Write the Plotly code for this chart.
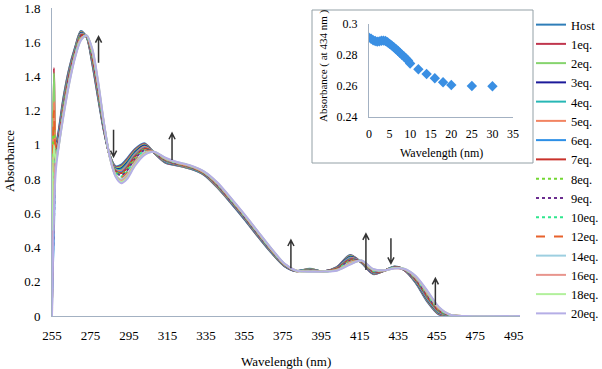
import plotly.graph_objects as go

# ---------------- data ----------------
wavelength = [255, 256, 257, 258, 261, 264, 267, 270, 273, 276, 279, 282, 285, 288, 291, 294,
              298, 303, 308, 314, 320, 327, 334, 341, 348, 355, 362, 369, 376,
              382, 389, 396, 403, 410, 416, 422, 428, 433, 438, 444, 450, 456, 462, 470, 500]

host = [0.05, 0.6, 1.0, 1.05, 1.28, 1.45, 1.57, 1.665, 1.63, 1.47, 1.27, 1.08, 0.94, 0.875, 0.885, 0.92,
        0.975, 1.01, 0.955, 0.895, 0.88, 0.86, 0.825, 0.75, 0.66, 0.565, 0.465, 0.37, 0.29,
        0.262, 0.276, 0.26, 0.285, 0.357, 0.31, 0.245, 0.265, 0.289, 0.27, 0.195, 0.085, 0.01, 0.0, 0.0, 0.0]
eq1 = [0.2, 1.45, 1.0, 1.043, 1.272, 1.444, 1.566, 1.661, 1.631, 1.476, 1.277, 1.084, 0.939, 0.871, 0.877, 0.912,
       0.968, 1.005, 0.955, 0.897, 0.881, 0.861, 0.826, 0.752, 0.662, 0.567, 0.467, 0.372, 0.291,
       0.262, 0.275, 0.26, 0.284, 0.353, 0.311, 0.247, 0.265, 0.288, 0.27, 0.198, 0.09, 0.013, 0.001, 0, 0]
eq2 = [0.7, 1.42, 1.02, 1.037, 1.266, 1.438, 1.562, 1.658, 1.631, 1.482, 1.283, 1.087, 0.939, 0.867, 0.871, 0.904,
       0.962, 1.001, 0.956, 0.899, 0.883, 0.863, 0.828, 0.754, 0.664, 0.569, 0.469, 0.373, 0.292,
       0.262, 0.274, 0.26, 0.282, 0.35, 0.312, 0.249, 0.265, 0.288, 0.271, 0.2, 0.094, 0.016, 0.001, 0, 0]
eq3 = [0.15, 0.9, 1.0, 1.03, 1.258, 1.432, 1.558, 1.654, 1.632, 1.488, 1.29, 1.09, 0.938, 0.863, 0.863, 0.896,
       0.955, 0.996, 0.956, 0.901, 0.884, 0.864, 0.829, 0.756, 0.666, 0.571, 0.471, 0.375, 0.293,
       0.263, 0.272, 0.26, 0.281, 0.346, 0.313, 0.251, 0.266, 0.287, 0.271, 0.203, 0.098, 0.019, 0.002, 0, 0]
eq4 = [0.3, 0.7, 0.98, 1.023, 1.25, 1.426, 1.554, 1.65, 1.633, 1.494, 1.297, 1.094, 0.937, 0.859, 0.856, 0.888,
       0.948, 0.991, 0.956, 0.903, 0.885, 0.865, 0.83, 0.758, 0.668, 0.573, 0.473, 0.377, 0.294,
       0.263, 0.271, 0.26, 0.28, 0.342, 0.314, 0.253, 0.266, 0.286, 0.272, 0.206, 0.103, 0.022, 0.002, 0, 0]
eq5 = [0.0, 1.25, 1.0, 1.017, 1.244, 1.42, 1.55, 1.647, 1.633, 1.5, 1.303, 1.097, 0.937, 0.855, 0.849, 0.88,
       0.942, 0.987, 0.957, 0.905, 0.887, 0.867, 0.832, 0.76, 0.67, 0.575, 0.475, 0.378, 0.295,
       0.263, 0.27, 0.26, 0.278, 0.338, 0.315, 0.255, 0.266, 0.285, 0.272, 0.208, 0.107, 0.025, 0.003, 0, 0]
eq6 = [0.1, 0.5, 0.95, 1.01, 1.236, 1.414, 1.546, 1.643, 1.634, 1.506, 1.31, 1.1, 0.936, 0.851, 0.841, 0.872,
       0.935, 0.982, 0.957, 0.907, 0.888, 0.868, 0.833, 0.762, 0.672, 0.577, 0.477, 0.38, 0.296,
       0.263, 0.269, 0.26, 0.277, 0.334, 0.316, 0.257, 0.266, 0.285, 0.272, 0.211, 0.111, 0.028, 0.003, 0, 0]
eq7 = [0.25, 0.65, 0.97, 1.004, 1.229, 1.409, 1.542, 1.64, 1.635, 1.511, 1.316, 1.103, 0.935, 0.847, 0.835, 0.865,
       0.929, 0.978, 0.957, 0.909, 0.889, 0.869, 0.834, 0.764, 0.674, 0.579, 0.479, 0.382, 0.297,
       0.263, 0.268, 0.26, 0.276, 0.331, 0.317, 0.259, 0.266, 0.284, 0.273, 0.213, 0.115, 0.031, 0.004, 0, 0]
eq8 = [0.65, 1.1, 0.98, 0.998, 1.223, 1.403, 1.539, 1.636, 1.635, 1.517, 1.322, 1.106, 0.935, 0.844, 0.828, 0.858,
       0.923, 0.974, 0.958, 0.911, 0.89, 0.87, 0.835, 0.766, 0.676, 0.581, 0.481, 0.383, 0.298,
       0.264, 0.267, 0.26, 0.275, 0.327, 0.318, 0.261, 0.267, 0.283, 0.273, 0.216, 0.119, 0.033, 0.004, 0, 0]
eq9 = [0.2, 0.55, 0.95, 0.992, 1.216, 1.398, 1.535, 1.633, 1.636, 1.522, 1.328, 1.109, 0.934, 0.84, 0.822, 0.85,
       0.917, 0.969, 0.958, 0.912, 0.892, 0.872, 0.837, 0.767, 0.677, 0.582, 0.482, 0.385, 0.299,
       0.264, 0.266, 0.26, 0.273, 0.324, 0.319, 0.262, 0.267, 0.283, 0.273, 0.218, 0.123, 0.036, 0.005, 0, 0]
eq10 = [0.4, 0.8, 0.95, 0.986, 1.21, 1.392, 1.532, 1.63, 1.636, 1.528, 1.334, 1.112, 0.934, 0.837, 0.815, 0.843,
        0.911, 0.965, 0.958, 0.914, 0.893, 0.873, 0.838, 0.769, 0.679, 0.584, 0.484, 0.386, 0.3,
        0.264, 0.265, 0.26, 0.272, 0.321, 0.32, 0.264, 0.267, 0.282, 0.274, 0.221, 0.127, 0.039, 0.005, 0, 0]
eq12 = [0.0, 1.2, 0.95, 0.978, 1.201, 1.385, 1.527, 1.625, 1.637, 1.535, 1.342, 1.116, 0.933, 0.832, 0.807, 0.834,
        0.903, 0.96, 0.959, 0.917, 0.894, 0.874, 0.839, 0.772, 0.682, 0.587, 0.487, 0.388, 0.301,
        0.264, 0.263, 0.26, 0.271, 0.316, 0.321, 0.267, 0.267, 0.281, 0.274, 0.224, 0.132, 0.042, 0.006, 0, 0]
eq14 = [0.3, 0.6, 0.92, 0.97, 1.192, 1.378, 1.522, 1.621, 1.638, 1.542, 1.35, 1.12, 0.932, 0.827, 0.798, 0.824,
        0.895, 0.954, 0.959, 0.919, 0.896, 0.876, 0.841, 0.774, 0.684, 0.589, 0.489, 0.39, 0.302,
        0.264, 0.262, 0.26, 0.269, 0.311, 0.322, 0.269, 0.267, 0.28, 0.275, 0.227, 0.137, 0.046, 0.006, 0, 0]
eq16 = [0.1, 0.7, 0.9, 0.963, 1.184, 1.372, 1.518, 1.617, 1.639, 1.548, 1.357, 1.124, 0.931, 0.823, 0.79, 0.816,
        0.888, 0.949, 0.959, 0.921, 0.897, 0.877, 0.842, 0.776, 0.686, 0.591, 0.491, 0.392, 0.303,
        0.265, 0.26, 0.26, 0.268, 0.307, 0.323, 0.271, 0.268, 0.279, 0.275, 0.23, 0.142, 0.049, 0.007, 0, 0]
eq18 = [0.5, 1.0, 0.9, 0.956, 1.177, 1.365, 1.514, 1.613, 1.639, 1.555, 1.364, 1.127, 0.931, 0.819, 0.783, 0.807,
        0.881, 0.944, 0.96, 0.923, 0.899, 0.879, 0.844, 0.778, 0.688, 0.593, 0.493, 0.394, 0.304,
        0.265, 0.259, 0.26, 0.266, 0.303, 0.324, 0.273, 0.268, 0.279, 0.276, 0.233, 0.146, 0.052, 0.008, 0, 0]
eq20 = [0.0, 0.6, 0.85, 0.95, 1.17, 1.36, 1.51, 1.61, 1.64, 1.56, 1.37, 1.13, 0.93, 0.815, 0.776, 0.80,
        0.875, 0.94, 0.96, 0.925, 0.90, 0.88, 0.845, 0.78, 0.69, 0.595, 0.495, 0.395, 0.305,
        0.265, 0.258, 0.26, 0.265, 0.30, 0.325, 0.275, 0.268, 0.278, 0.276, 0.235, 0.15, 0.055, 0.008, 0, 0]

series_names = ["Host", "1eq.", "2eq.", "3eq.", "4eq.", "5eq.", "6eq.", "7eq.", "8eq.", "9eq.",
                "10eq.", "12eq.", "14eq.", "16eq.", "18eq.", "20eq."]
series_values = [host, eq1, eq2, eq3, eq4, eq5, eq6, eq7, eq8, eq9, eq10, eq12, eq14, eq16, eq18, eq20]

x_ticks = [255, 275, 295, 315, 335, 355, 375, 395, 415, 435, 455, 475, 495]
y_ticks = [0, 0.2, 0.4, 0.6, 0.8, 1, 1.2, 1.4, 1.6, 1.8]
y_tick_text = ["0", "0.2", "0.4", "0.6", "0.8", "1", "1.2", "1.4", "1.6", "1.8"]

# inset: absorbance at 434 nm vs equivalents
inset_eq = [0, 0.5, 1, 1.5, 2, 2.5, 3, 3.5, 4, 4.5, 5, 5.5, 6, 6.5, 7, 7.5, 8, 8.5, 9, 9.5, 10,
            12, 14, 16, 18, 20, 25, 30]
inset_abs = [0.2912, 0.2905, 0.2895, 0.289, 0.2886, 0.2888, 0.2892, 0.2893, 0.289, 0.2882, 0.2872,
             0.2862, 0.2851, 0.2839, 0.2827, 0.2815, 0.2802, 0.279, 0.2777, 0.2764, 0.2745,
             0.2708, 0.2677, 0.265, 0.2624, 0.2606, 0.26, 0.2598]

# arrows: (wavelength, tail absorbance, head absorbance)
arrows = [(279.2, 1.48, 1.633), (287.0, 1.088, 0.932), (317.4, 0.912, 1.068),
          (379.2, 0.279, 0.444), (418.2, 0.269, 0.48), (431.2, 0.454, 0.308), (454.3, 0.064, 0.22)]

# ---------------- styles ----------------
colors = ["#2f7eb8", "#c0364e", "#86d46e", "#1c1a9a", "#27b7b5", "#f28462", "#2d8fe6", "#c9322b",
          "#73d733", "#6b2d90", "#2fe68d", "#e8622c", "#9dcfe0", "#e8958d", "#b2f09c", "#b5aee6"]
dashes = ["solid"] * 8 + ["dot", "dot", "dot", "dash"] + ["solid"] * 4

FONT = "Liberation Serif, Times New Roman, serif"
AXIS_COLOR = "#a3b1c2"

fig = go.Figure()
for name, vals, col, dsh in zip(series_names, series_values, colors, dashes):
    fig.add_trace(go.Scatter(x=wavelength, y=vals, name=name, mode="lines",
                             line=dict(color=col, width=2, dash=dsh, shape="spline", smoothing=0.8),
                             xaxis="x", yaxis="y"))

fig.add_trace(go.Scatter(x=inset_eq, y=inset_abs, mode="markers", showlegend=False,
                         marker=dict(symbol="diamond", size=8, color="#3a8fe3"),
                         xaxis="x2", yaxis="y2"))

# layout in on-screen pixels (page body margin is removed below)
W, H = 602, 369
PLOT_LEFT, PLOT_RIGHT, PLOT_TOP, PLOT_BOTTOM = 52, 520, 8, 316
pw, ph = PLOT_RIGHT - PLOT_LEFT, PLOT_BOTTOM - PLOT_TOP
L, T = PLOT_LEFT, PLOT_TOP
R, B = W - L - pw, H - T - ph


def px(xs):
    return (xs - PLOT_LEFT) / pw


def py(ys):
    return (PLOT_BOTTOM - ys) / ph


shapes = []
# inset frame
shapes.append(dict(type="rect", xref="paper", yref="paper", x0=px(312), x1=px(533), y0=py(163), y1=py(10),
                   line=dict(color="#93a0a6", width=1), fillcolor="white", layer="below"))
# arrows in data coordinates
hx, hy = 1.6, 0.035
for lam, a0, a1 in arrows:
    s = 1 if a1 > a0 else -1
    path = (f"M {lam},{a0} L {lam},{a1} "
            f"M {lam - hx},{a1 - s * hy} L {lam},{a1} L {lam + hx},{a1 - s * hy}")
    shapes.append(dict(type="path", xref="x", yref="y", path=path,
                       line=dict(color="#333333", width=1.5)))

annotations = [
    dict(text="Wavelength (nm)", xref="paper", yref="paper", x=px(286), y=py(361),
         showarrow=False, font=dict(size=13, family=FONT, color="black"), xanchor="center", yanchor="middle"),
    dict(text="Absorbance", xref="paper", yref="paper", x=px(9), y=py(161), textangle=-90,
         showarrow=False, font=dict(size=13, family=FONT, color="black"), xanchor="center", yanchor="middle"),
    dict(text="Absorbance ( at 434 nm )", xref="paper", yref="paper", x=px(323), y=py(66), textangle=-90,
         showarrow=False, font=dict(size=11, family=FONT, color="black"), xanchor="center", yanchor="middle"),
    dict(text="Wavelength (nm)", xref="paper", yref="paper", x=px(441), y=py(153),
         showarrow=False, font=dict(size=12, family=FONT, color="black"), xanchor="center", yanchor="middle"),
]

fig.update_layout(
    width=W, height=H, margin=dict(l=L, r=R, t=T, b=B, autoexpand=False),
    paper_bgcolor="white", plot_bgcolor="white",
    font=dict(family=FONT, size=13, color="black"),
    xaxis=dict(range=[255, 498.3], tickvals=x_ticks, showgrid=False, zeroline=False, automargin=False,
               showline=True, linecolor=AXIS_COLOR, linewidth=1, ticks="", tickfont=dict(size=13),
               ticklabelstandoff=7),
    yaxis=dict(range=[0, 1.8], tickvals=y_ticks, ticktext=y_tick_text, showgrid=False, zeroline=False,
               showline=True, linecolor=AXIS_COLOR, linewidth=1, ticks="", tickfont=dict(size=13),
               ticklabelstandoff=8, automargin=False),
    xaxis2=dict(domain=[px(369), px(513)], anchor="y2", range=[0, 35], dtick=5, showgrid=False,
                zeroline=False, showline=True, linecolor=AXIS_COLOR, ticks="", tickfont=dict(size=12),
                ticklabelstandoff=6, automargin=False),
    yaxis2=dict(domain=[py(117), py(24)], anchor="x2", range=[0.24, 0.3],
                tickvals=[0.24, 0.26, 0.28, 0.3], ticktext=["0.24", "0.26", "0.28", "0.3"],
                showgrid=False, zeroline=False, showline=True, linecolor=AXIS_COLOR, ticks="",
                tickfont=dict(size=12), ticklabelstandoff=8, automargin=False),
    legend=dict(x=px(531), y=py(10), xanchor="left", yanchor="top", bgcolor="rgba(0,0,0,0)",
                font=dict(size=12.5, family=FONT), tracegroupgap=0, itemwidth=30, maxheight=360),
    shapes=shapes, annotations=annotations,
)

fig.write_html("out.html", config={"displayModeBar": False},
               post_script="document.body.style.margin='0px';")
